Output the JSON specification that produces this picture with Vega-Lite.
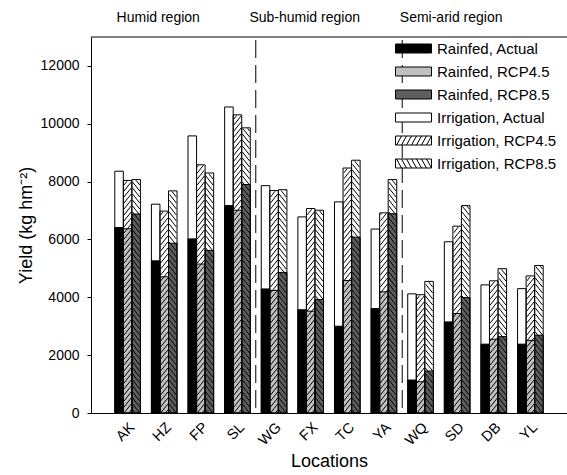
{
  "$schema": "https://vega.github.io/schema/vega-lite/v6.json",
  "width": 476,
  "height": 376,
  "autosize": {"type": "none"},
  "padding": {"left": 91, "top": 37, "right": 0, "bottom": 62},
  "config": {
    "font": "Liberation Sans",
    "view": {"stroke": null},
    "axis": {"grid": false, "domainColor": "black", "tickColor": "black", "labelColor": "black", "titleColor": "black", "titleFontWeight": "normal"}
  },
  "datasets": {
    "yields": [
      {"loc": "AK", "scenario": "Actual", "irr": 8360, "rain": 6410},
      {"loc": "AK", "scenario": "RCP4.5", "irr": 8040, "rain": 6370},
      {"loc": "AK", "scenario": "RCP8.5", "irr": 8070, "rain": 6880},
      {"loc": "HZ", "scenario": "Actual", "irr": 7220, "rain": 5260},
      {"loc": "HZ", "scenario": "RCP4.5", "irr": 6980, "rain": 4710},
      {"loc": "HZ", "scenario": "RCP8.5", "irr": 7680, "rain": 5870},
      {"loc": "FP", "scenario": "Actual", "irr": 9580, "rain": 6020},
      {"loc": "FP", "scenario": "RCP4.5", "irr": 8580, "rain": 5150},
      {"loc": "FP", "scenario": "RCP8.5", "irr": 8300, "rain": 5620},
      {"loc": "SL", "scenario": "Actual", "irr": 10580, "rain": 7170},
      {"loc": "SL", "scenario": "RCP4.5", "irr": 10310, "rain": 7010},
      {"loc": "SL", "scenario": "RCP8.5", "irr": 9860, "rain": 7900},
      {"loc": "WG", "scenario": "Actual", "irr": 7860, "rain": 4290},
      {"loc": "WG", "scenario": "RCP4.5", "irr": 7690, "rain": 4240},
      {"loc": "WG", "scenario": "RCP8.5", "irr": 7720, "rain": 4860},
      {"loc": "FX", "scenario": "Actual", "irr": 6780, "rain": 3570},
      {"loc": "FX", "scenario": "RCP4.5", "irr": 7070, "rain": 3520},
      {"loc": "FX", "scenario": "RCP8.5", "irr": 7010, "rain": 3920},
      {"loc": "TC", "scenario": "Actual", "irr": 7300, "rain": 3000},
      {"loc": "TC", "scenario": "RCP4.5", "irr": 8470, "rain": 4580},
      {"loc": "TC", "scenario": "RCP8.5", "irr": 8740, "rain": 6080},
      {"loc": "YA", "scenario": "Actual", "irr": 6360, "rain": 3610},
      {"loc": "YA", "scenario": "RCP4.5", "irr": 6920, "rain": 4190},
      {"loc": "YA", "scenario": "RCP8.5", "irr": 8070, "rain": 6890},
      {"loc": "WQ", "scenario": "Actual", "irr": 4120, "rain": 1140},
      {"loc": "WQ", "scenario": "RCP4.5", "irr": 4090, "rain": 1080},
      {"loc": "WQ", "scenario": "RCP8.5", "irr": 4550, "rain": 1450},
      {"loc": "SD", "scenario": "Actual", "irr": 5920, "rain": 3150},
      {"loc": "SD", "scenario": "RCP4.5", "irr": 6460, "rain": 3440},
      {"loc": "SD", "scenario": "RCP8.5", "irr": 7170, "rain": 3990},
      {"loc": "DB", "scenario": "Actual", "irr": 4430, "rain": 2380},
      {"loc": "DB", "scenario": "RCP4.5", "irr": 4570, "rain": 2550},
      {"loc": "DB", "scenario": "RCP8.5", "irr": 4990, "rain": 2640},
      {"loc": "YL", "scenario": "Actual", "irr": 4300, "rain": 2380},
      {"loc": "YL", "scenario": "RCP4.5", "irr": 4740, "rain": 2510},
      {"loc": "YL", "scenario": "RCP8.5", "irr": 5100, "rain": 2690}
    ],
    "regions": [
      {"loc": "HZ", "label": "Humid region"},
      {"loc": "FX", "label": "Sub-humid region"},
      {"loc": "SD", "label": "Semi-arid region"}
    ],
    "seps": [{"loc": "SL"}, {"loc": "YA"}],
    "legend": [
      {"series": "Rainfed, Actual"},
      {"series": "Rainfed, RCP4.5"},
      {"series": "Rainfed, RCP8.5"},
      {"series": "Irrigation, Actual"},
      {"series": "Irrigation, RCP4.5"},
      {"series": "Irrigation, RCP8.5"}
    ]
  },
  "layer": [
    {
      "data": {"name": "yields"},
      "mark": {"type": "bar", "fill": "white", "strokeWidth": 0},
      "encoding": {
        "x": {"field": "loc", "type": "nominal", "title": "Locations",
          "scale": {"domain": ["AK","HZ","FP","SL","WG","FX","TC","YA","WQ","SD","DB","YL"], "paddingInner": 0.3, "paddingOuter": 0.65},
          "axis": {"labelAngle": -45, "ticks": false, "labelFontSize": 14.5, "labelPadding": 7, "titleFontSize": 18, "titleY": 48, "titleBaseline": "middle"}},
        "xOffset": {"field": "scenario", "type": "nominal", "scale": {"domain": ["Actual","RCP4.5","RCP8.5"], "paddingInner": 0, "paddingOuter": 0}},
        "y": {"field": "irr", "type": "quantitative", "title": "Yield (kg hm⁻²)",
          "scale": {"domain": [0, 13000], "nice": false},
          "axis": {"values": [0,1000,2000,3000,4000,5000,6000,7000,8000,9000,10000,11000,12000,13000], "format": "d", "labelOverlap": false, "labelSeparation": -30, "tickSize": 4, "labelPadding": 8, "labelFontSize": 14, "titleFontSize": 18, "titleX": -65, "titleY": 188, "titleBaseline": "middle"}}
      }
    },
    {
      "data": {"name": "yields"},
      "mark": {"type": "bar", "strokeWidth": 0},
      "encoding": {
        "x": {"field": "loc", "type": "nominal", "title": "Locations"},
        "xOffset": {"field": "scenario", "type": "nominal"},
        "y": {"field": "rain", "type": "quantitative", "title": "Yield (kg hm⁻²)"},
        "fill": {"condition": [{"test": "datum.scenario === 'Actual'", "value": "#000000"}, {"test": "datum.scenario === 'RCP4.5'", "value": "#c0c0c0"}], "value": "#5e5e5e"}
      }
    },
    {
      "data": {"name": "yields"},
      "transform": [{"filter": "datum.scenario === 'RCP4.5'"}],
      "mark": {"type": "point", "size": 4, "filled": false, "stroke": "black", "strokeWidth": 1, "opacity": 1,
        "shape": "M1.2,0L3.6,-3M-3.6,0l7.2,-9m-7.2,3l7.2,-9m-7.2,3l7.2,-9m-7.2,3l7.2,-9m-7.2,3l7.2,-9m-7.2,3l7.2,-9m-7.2,3l7.2,-9m-7.2,3l7.2,-9m-7.2,3l7.2,-9m-7.2,3l7.2,-9m-7.2,3l7.2,-9m-7.2,3l7.2,-9m-7.2,3l7.2,-9m-7.2,3l7.2,-9m-7.2,3l7.2,-9m-7.2,3l7.2,-9m-7.2,3l7.2,-9m-7.2,3l7.2,-9m-7.2,3l7.2,-9m-7.2,3l7.2,-9m-7.2,3l7.2,-9m-7.2,3l7.2,-9m-7.2,3l7.2,-9m-7.2,3l7.2,-9m-7.2,3l7.2,-9m-7.2,3l7.2,-9m-7.2,3l7.2,-9m-7.2,3l7.2,-9m-7.2,3l7.2,-9m-7.2,3l7.2,-9m-7.2,3l7.2,-9m-7.2,3l7.2,-9m-7.2,3l7.2,-9m-7.2,3l7.2,-9m-7.2,3l7.2,-9m-7.2,3l7.2,-9m-7.2,3l7.2,-9m-7.2,3l7.2,-9m-7.2,3l7.2,-9m-7.2,3l7.2,-9m-7.2,3l7.2,-9m-7.2,3l7.2,-9m-7.2,3l7.2,-9m-7.2,3l7.2,-9m-7.2,3l7.2,-9m-7.2,3l7.2,-9m-7.2,3l7.2,-9m-7.2,3l7.2,-9m-7.2,3l7.2,-9m-7.2,3l7.2,-9m-7.2,3l7.2,-9m-7.2,3l7.2,-9m-7.2,3l7.2,-9m-7.2,3l7.2,-9m-7.2,3l7.2,-9m-7.2,3l7.2,-9m-7.2,3l7.2,-9m-7.2,3l7.2,-9m-7.2,3l7.2,-9m-7.2,3l7.2,-9"},
      "encoding": {
        "x": {"field": "loc", "type": "nominal", "title": "Locations"},
        "xOffset": {"field": "scenario", "type": "nominal"},
        "y": {"datum": 0, "type": "quantitative"}
      }
    },
    {
      "data": {"name": "yields"},
      "transform": [{"filter": "datum.scenario === 'RCP8.5'"}],
      "mark": {"type": "point", "size": 4, "filled": false, "stroke": "black", "strokeWidth": 1, "opacity": 1,
        "shape": "M-3.6,-3L-1.2,0M-3.6,-9l7.2,9m-7.2,-15l7.2,9m-7.2,-15l7.2,9m-7.2,-15l7.2,9m-7.2,-15l7.2,9m-7.2,-15l7.2,9m-7.2,-15l7.2,9m-7.2,-15l7.2,9m-7.2,-15l7.2,9m-7.2,-15l7.2,9m-7.2,-15l7.2,9m-7.2,-15l7.2,9m-7.2,-15l7.2,9m-7.2,-15l7.2,9m-7.2,-15l7.2,9m-7.2,-15l7.2,9m-7.2,-15l7.2,9m-7.2,-15l7.2,9m-7.2,-15l7.2,9m-7.2,-15l7.2,9m-7.2,-15l7.2,9m-7.2,-15l7.2,9m-7.2,-15l7.2,9m-7.2,-15l7.2,9m-7.2,-15l7.2,9m-7.2,-15l7.2,9m-7.2,-15l7.2,9m-7.2,-15l7.2,9m-7.2,-15l7.2,9m-7.2,-15l7.2,9m-7.2,-15l7.2,9m-7.2,-15l7.2,9m-7.2,-15l7.2,9m-7.2,-15l7.2,9m-7.2,-15l7.2,9m-7.2,-15l7.2,9m-7.2,-15l7.2,9m-7.2,-15l7.2,9m-7.2,-15l7.2,9m-7.2,-15l7.2,9m-7.2,-15l7.2,9m-7.2,-15l7.2,9m-7.2,-15l7.2,9m-7.2,-15l7.2,9m-7.2,-15l7.2,9m-7.2,-15l7.2,9m-7.2,-15l7.2,9m-7.2,-15l7.2,9m-7.2,-15l7.2,9m-7.2,-15l7.2,9m-7.2,-15l7.2,9m-7.2,-15l7.2,9m-7.2,-15l7.2,9m-7.2,-15l7.2,9m-7.2,-15l7.2,9m-7.2,-15l7.2,9m-7.2,-15l7.2,9m-7.2,-15l7.2,9m-7.2,-15l7.2,9m-7.2,-15l7.2,9m-7.2,-15l7.2,9"},
      "encoding": {
        "x": {"field": "loc", "type": "nominal", "title": "Locations"},
        "xOffset": {"field": "scenario", "type": "nominal"},
        "y": {"datum": 0, "type": "quantitative"}
      }
    },
    {
      "data": {"name": "yields"},
      "mark": {"type": "bar", "fill": "white", "stroke": "white", "strokeWidth": 1.5},
      "encoding": {
        "x": {"field": "loc", "type": "nominal", "title": "Locations"},
        "xOffset": {"field": "scenario", "type": "nominal"},
        "y": {"field": "irr", "type": "quantitative", "title": "Yield (kg hm⁻²)"},
        "y2": {"datum": 13000}
      }
    },
    {
      "data": {"name": "yields"},
      "mark": {"type": "bar", "fillOpacity": 0, "stroke": "black", "strokeWidth": 1},
      "encoding": {
        "x": {"field": "loc", "type": "nominal", "title": "Locations"},
        "xOffset": {"field": "scenario", "type": "nominal"},
        "y": {"field": "irr", "type": "quantitative", "title": "Yield (kg hm⁻²)"}
      }
    },
    {
      "data": {"name": "yields"},
      "mark": {"type": "bar", "fillOpacity": 0, "stroke": "black", "strokeWidth": 1},
      "encoding": {
        "x": {"field": "loc", "type": "nominal", "title": "Locations"},
        "xOffset": {"field": "scenario", "type": "nominal"},
        "y": {"field": "rain", "type": "quantitative", "title": "Yield (kg hm⁻²)"}
      }
    },
    {
      "data": {"name": "seps"},
      "mark": {"type": "rule", "color": "black", "strokeWidth": 1, "strokeDash": [18, 7], "strokeDashOffset": -3},
      "encoding": {
        "x": {"field": "loc", "type": "nominal", "title": "Locations", "bandPosition": 1.2143}
      }
    },
    {
      "data": {"values": [{"v": 13000}]},
      "mark": {"type": "rule", "color": "black", "strokeWidth": 1},
      "encoding": {
        "y": {"field": "v", "type": "quantitative", "title": "Yield (kg hm⁻²)"}
      }
    },
    {
      "data": {"name": "regions"},
      "mark": {"type": "text", "fontSize": 14, "dx": -6, "dy": -19.5, "baseline": "middle", "align": "center", "color": "black"},
      "encoding": {
        "x": {"field": "loc", "type": "nominal", "title": "Locations"},
        "y": {"datum": 13000, "type": "quantitative"},
        "text": {"field": "label"}
      }
    },
    {
      "data": {"name": "legend"},
      "mark": {"type": "point", "filled": true, "opacity": 0, "stroke": "black", "strokeWidth": 1, "size": 4},
      "encoding": {
        "fill": {"field": "series", "type": "nominal",
          "scale": {"domain": ["Rainfed, Actual","Rainfed, RCP4.5","Rainfed, RCP8.5","Irrigation, Actual","Irrigation, RCP4.5","Irrigation, RCP8.5"], "range": ["#000000","#c0c0c0","#5e5e5e","#ffffff","#ffffff","#ffffff"]},
          "legend": {"orient": "none", "legendX": 297, "legendY": 4, "title": null, "labelFontSize": 15, "labelColor": "black", "symbolSize": 4, "labelOffset": 34, "rowPadding": 7, "padding": 0, "symbolStrokeColor": "black", "symbolStrokeWidth": 1, "symbolOpacity": 1,
            "encode": {"symbols": {"update": {"opacity": {"value": 1}, "stroke": {"value": "black"}, "strokeWidth": {"value": 1}}}}}},
        "shape": {"field": "series", "type": "nominal",
          "scale": {"domain": ["Rainfed, Actual","Rainfed, RCP4.5","Rainfed, RCP8.5","Irrigation, Actual","Irrigation, RCP4.5","Irrigation, RCP8.5"],
            "range": ["M0,-4.5H36V4.5H0Z","M0,-4.5H36V4.5H0Z","M0,-4.5H36V4.5H0Z","M0,-4.5H36V4.5H0Z",
              "M0,-4.5H36V4.5H0ZM1,4.5L6,-4.5M6,4.5L11,-4.5M11,4.5L16,-4.5M16,4.5L21,-4.5M21,4.5L26,-4.5M26,4.5L31,-4.5M31,4.5L36,-4.5",
              "M0,-4.5H36V4.5H0ZM1,-4.5L6,4.5M6,-4.5L11,4.5M11,-4.5L16,4.5M16,-4.5L21,4.5M21,-4.5L26,4.5M26,-4.5L31,4.5M31,-4.5L36,4.5"]},
          "legend": {"orient": "none", "legendX": 297, "legendY": 4, "title": null, "labelFontSize": 15, "labelColor": "black", "symbolSize": 4, "labelOffset": 34, "rowPadding": 7, "padding": 0, "symbolStrokeColor": "black", "symbolStrokeWidth": 1, "symbolOpacity": 1,
            "encode": {"symbols": {"update": {"opacity": {"value": 1}, "stroke": {"value": "black"}, "strokeWidth": {"value": 1}}}}}}
      }
    }
  ]
}
